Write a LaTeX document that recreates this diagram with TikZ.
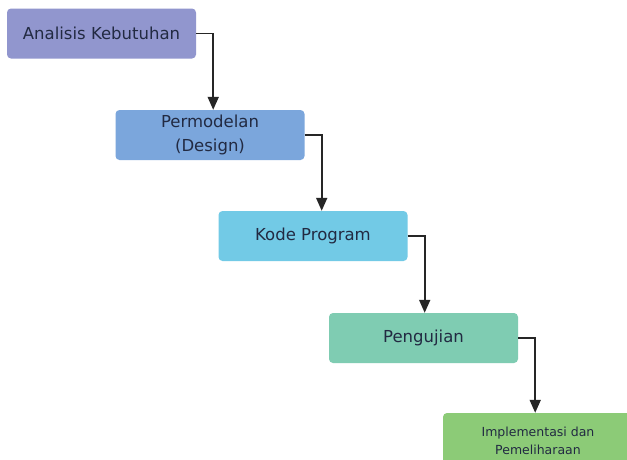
\documentclass[tikz,border=0pt]{standalone}
\usepackage{fontspec}
\setmainfont{DejaVu Sans}
\usetikzlibrary{arrows.meta}

\definecolor{phaseA}{HTML}{9196CE}
\definecolor{phaseB}{HTML}{7BA6DC}
\definecolor{phaseC}{HTML}{72CAE6}
\definecolor{phaseD}{HTML}{7FCCB2}
\definecolor{phaseE}{HTML}{8CCB77}
\definecolor{labelink}{HTML}{222A42}

\tikzset{
  phase/.style={rounded corners=4pt, minimum width=189pt, minimum height=50pt,
    inner sep=0pt, align=center, text=labelink, font=\fontsize{16.5}{24}\selectfont},
  flow/.style={line width=1.8pt, draw=black!85, -{Triangle[width=11pt,length=13pt]}}
}

\begin{document}
\begin{tikzpicture}[x=1pt,y=-1pt]

  % page frame
  \clip (0,0) rectangle (627,459);
  \fill[white] (0,0) rectangle (627,459);

  % phases
  \node[phase, fill=phaseA] (analisis) at (101.5,33.5) {Analisis Kebutuhan};
  \node[phase, fill=phaseB] (desain) at (210,135) {Permodelan\\(Design)};
  \node[phase, fill=phaseC] (kode) at (313,236) {Kode Program};
  \node[phase, fill=phaseD] (uji) at (423.5,338) {Pengujian};
  \node[phase, fill=phaseE, minimum width=190pt, minimum height=56pt,
        font=\fontsize{12.5}{18}\selectfont] (rawat) at (538,441) {Implementasi dan\\Pemeliharaan};

  % connectors
  \draw[flow] (analisis.east) -- ++(17,0) coordinate (k1) -- (k1 |- desain.north);
  \draw[flow] (desain.east) -- ++(17,0) coordinate (k2) -- (k2 |- kode.north);
  \draw[flow] (kode.east) -- ++(17,0) coordinate (k3) -- (k3 |- uji.north);
  \draw[flow] (uji.east) -- ++(17,0) coordinate (k4) -- (k4 |- rawat.north);

\end{tikzpicture}
\end{document}
